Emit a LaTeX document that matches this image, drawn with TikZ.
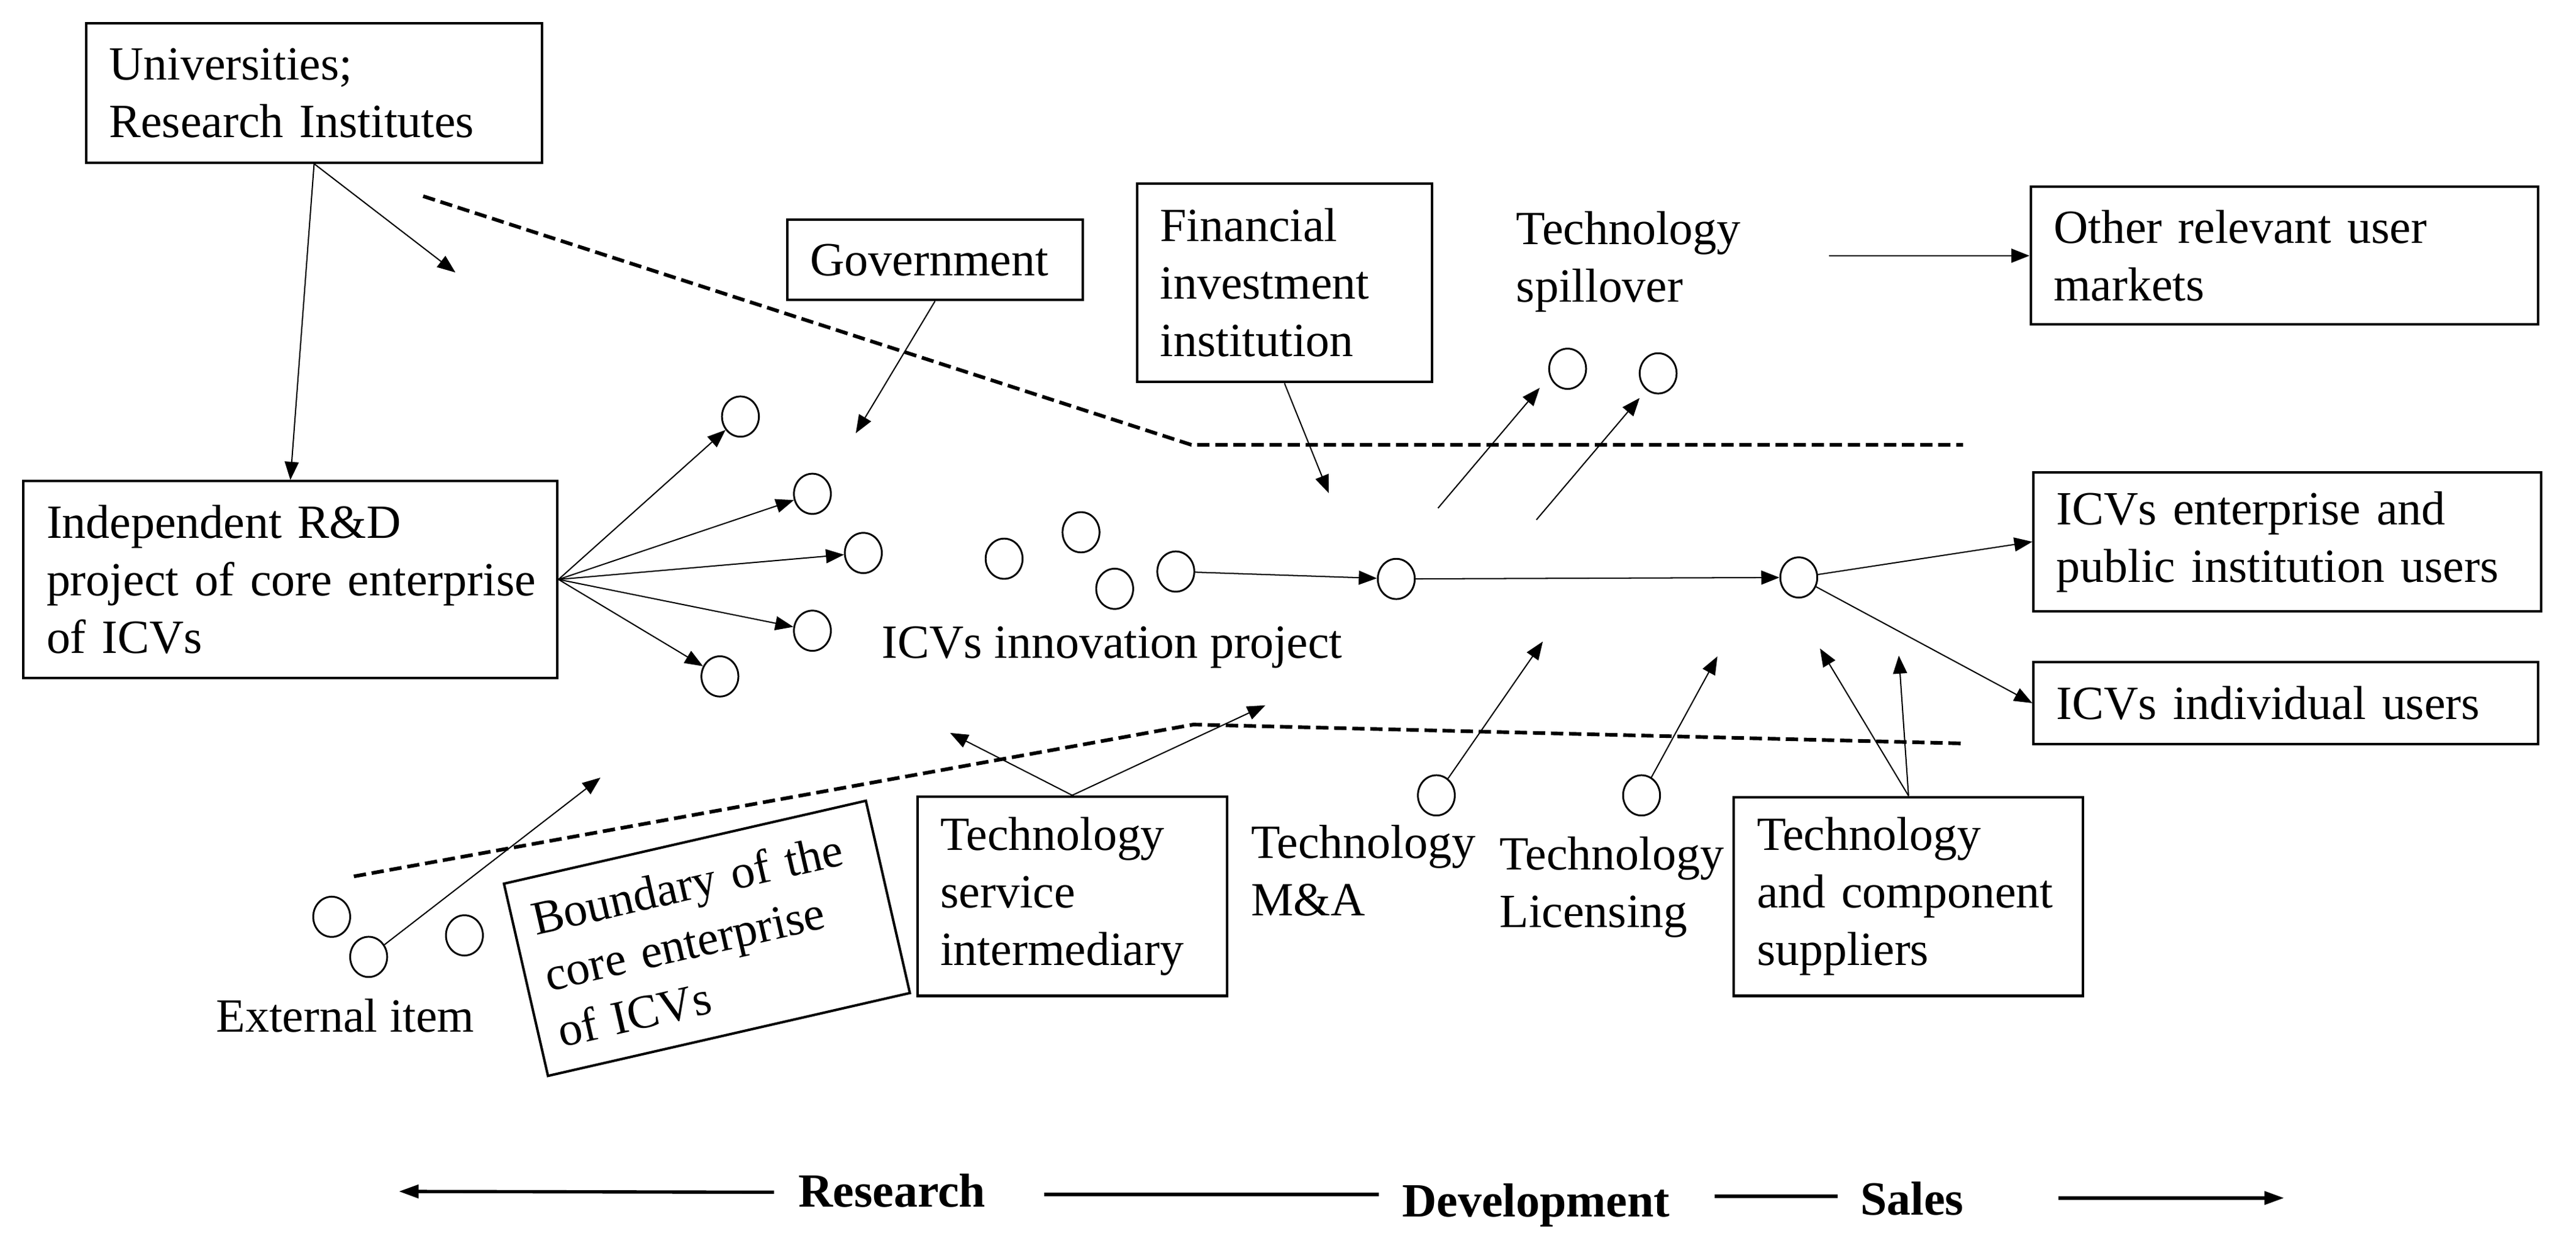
\documentclass[tikz,border=0pt]{standalone}
\usepackage{fontspec}
\setmainfont{Liberation Serif}
\usetikzlibrary{arrows.meta,shapes.geometric}
\begin{document}
\begin{tikzpicture}[x=1pt,y=-1pt,
  font=\fontsize{29pt}{35pt}\selectfont,
  box/.style={draw,line width=1.5pt,inner xsep=14pt,inner ysep=0pt,align=left},
  circ/.style={draw,ellipse,line width=1.1pt,minimum width=22.5pt,minimum height=24.5pt,inner sep=0pt},
  lbl/.style={inner sep=0pt,align=left,text width=140pt,anchor=base west},
  plain/.style={inner sep=0pt,anchor=base},
  arr/.style={line width=0.75pt,-{Triangle[length=11pt,width=8.5pt]}},
  bound/.style={line width=2.2pt,dash pattern=on 7.5pt off 3.5pt},
  axis/.style={line width=2pt},
  axarr/.style={line width=2pt,-{Triangle[length=12pt,width=8pt]}},
  axlbl/.style={inner sep=0pt,anchor=base,font=\fontsize{29pt}{35pt}\selectfont\bfseries}
]
\useasboundingbox (0,0) rectangle (1568,763.7);

% boxes
\node[box,minimum width=277.6pt,minimum height=84.7pt,text width=249.6pt] (univ) at (191.2,56.55) {Universities;\\Research Institutes};
\node[box,minimum width=179.9pt,minimum height=48.7pt,text width=151.9pt] (gov) at (569.15,158.15) {Government};
\node[box,minimum width=179.3pt,minimum height=120.9pt,text width=151.3pt] (fin) at (781.85,172.05) {Financial\\investment\\institution};
\node[box,minimum width=308.9pt,minimum height=83.8pt,text width=280.9pt] (other) at (1390.55,155.6) {Other relevant user\\markets};
\node[box,minimum width=324.9pt,minimum height=119.6pt,text width=296.9pt] (rd) at (176.75,352.6) {Independent R\&D\\\mbox{project of core enterprise}\\of ICVs};
\node[box,minimum width=308.9pt,minimum height=84.7pt,text width=280.9pt] (ent) at (1392.25,329.65) {ICVs enterprise and\\\mbox{public institution users}};
\node[box,minimum width=307.2pt,minimum height=49.9pt,text width=279.2pt] (indiv) at (1391.4,427.85) {ICVs individual users};
\node[box,minimum width=188.5pt,minimum height=121.3pt,text width=160.5pt] (ts) at (652.65,545.35) {Technology\\service\\intermediary};
\node[box,minimum width=212.6pt,minimum height=121pt,text width=184.6pt] (sup) at (1161.7,545.5) {Technology\\\mbox{and component}\\suppliers};
\node[box,rotate=12.9,inner xsep=12pt,minimum width=226pt,minimum height=120pt,text width=202pt] (bnd) at (430.3,571) {Boundary of the\\core enterprise\\of ICVs};

% free labels
\node[lbl] (spill) at (922.8,148.9) {Technology\\spillover};
\node[lbl] (ma) at (761.4,522.4) {Technology\\M\&A};
\node[lbl] (lic) at (912.6,529.2) {Technology\\Licensing};
\node[plain] (proj) at (677,400.6) {ICVs innovation project};
\node[plain] (ext) at (210.2,628) {External item};
\node[axlbl] (res) at (543,734.6) {Research};
\node[axlbl] (dev) at (935,740.3) {Development};
\node[axlbl] (sal) at (1163.8,739.2) {Sales};

% circles
\node[circ] (c1) at (450.7,253.5) {};
\node[circ] (c2) at (494.5,300.5) {};
\node[circ] (c3) at (525.5,336.5) {};
\node[circ] (c4) at (494.5,383.8) {};
\node[circ] (c5) at (438.2,411.6) {};
\node[circ] (c6) at (611.2,340) {};
\node[circ] (c7) at (658,323.9) {};
\node[circ] (c8) at (678.5,358.3) {};
\node[circ] (c9) at (715.7,347.8) {};
\node[circ] (c10) at (849.9,352.3) {};
\node[circ] (c11) at (1094.9,351.4) {};
\node[circ] (c12) at (954.2,224.4) {};
\node[circ] (c13) at (1009.3,227.2) {};
\node[circ] (c14) at (874.3,484) {};
\node[circ] (c15) at (999.2,484) {};
\node[circ] (c16) at (201.9,557.9) {};
\node[circ] (c17) at (224.4,582.3) {};
\node[circ] (c18) at (282.7,569.2) {};

% free connector ends
\coordinate (univtip) at (277.2,165.8);
\coordinate (govtip) at (520.9,263.6);
\coordinate (fintip) at (808.8,300.1);
\coordinate (sp1a) at (875.3,309.2);
\coordinate (sp1b) at (937.2,236);
\coordinate (sp2a) at (935.2,316.3);
\coordinate (sp2b) at (998,242.2);
\coordinate (othsrc) at (1113.5,155.6);
\coordinate (tsl) at (578.3,446);
\coordinate (tsr) at (770.2,429.2);
\coordinate (matip) at (939.1,390.4);
\coordinate (lictip) at (1045.4,399.4);
\coordinate (supl) at (1107.8,394.6);
\coordinate (supr) at (1155.8,398.9);
\coordinate (exttip) at (365.5,473.2);
\coordinate (ua) at (257.6,119.4);
\coordinate (ub) at (725.2,270.7);
\coordinate (uc) at (1194.9,270.7);
\coordinate (la) at (215.4,533.3);
\coordinate (lb) at (726.4,440.9);
\coordinate (lc) at (1195,452.4);
\coordinate (ax0) at (242.8,725);
\coordinate (ax1) at (471.2,725.5);
\coordinate (ax2) at (635.7,726.8);
\coordinate (ax3) at (839.1,726.8);
\coordinate (ax4) at (1043.8,727.9);
\coordinate (ax5) at (1118.4,727.9);
\coordinate (ax6) at (1252.8,729);
\coordinate (ax7) at (1390.3,729);

% boundary lines
\draw[bound] (ua) -- (ub) -- (uc);
\draw[bound] (la) -- (lb) -- (lc);

% connectors
\draw[arr] (univ.south) -- (rd.north);
\draw[arr] (univ.south) -- (univtip);
\draw[arr] (gov.south) -- (govtip);
\draw[arr] (fin.south) -- (fintip);
\draw[arr] (sp1a) -- (sp1b);
\draw[arr] (sp2a) -- (sp2b);
\draw[arr] (othsrc) -- (other.west);
\foreach \c in {c1,c2,c3,c4,c5} \draw[arr] (rd.east) -- (\c);
\draw[arr] (c9) -- (c10);
\draw[arr] (c10) -- (c11);
\draw[arr] (c11) -- (ent.west);
\draw[arr] (c11) -- (indiv.west);
\draw[arr] (ts.north) -- (tsl);
\draw[arr] (ts.north) -- (tsr);
\draw[arr] (c14) -- (matip);
\draw[arr] (c15) -- (lictip);
\draw[arr] (sup.north) -- (supl);
\draw[arr] (sup.north) -- (supr);
\draw[arr] (c17) -- (exttip);

% bottom axis
\draw[axarr] (ax1) -- (ax0);
\draw[axis] (ax2) -- (ax3);
\draw[axis] (ax4) -- (ax5);
\draw[axarr] (ax6) -- (ax7);
\end{tikzpicture}
\end{document}
